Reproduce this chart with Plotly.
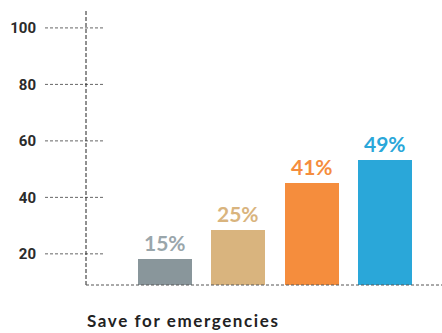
import plotly.graph_objects as go

# Share of each group that saves for emergencies (%)
groups = ["Group A", "Group B", "Group C", "Group D"]
shares = [15, 25, 41, 49]
bar_colors = ["#89969B", "#D9B47E", "#F58D3D", "#2AA7D9"]
label_colors = ["#9AA6AB", "#D9B47E", "#F58D3D", "#2AA7D9"]

tick_values = [20, 40, 60, 80, 100]
x_title = "Save for emergencies"

fig = go.Figure()

fig.add_trace(go.Bar(
    x=groups,
    y=shares,
    yaxis="y2",
    marker=dict(color=bar_colors, line=dict(width=0)),
    width=0.737,
    hoverinfo="skip",
    showlegend=False,
))

# Percent labels above each bar
for g, v, c in zip(groups, shares, label_colors):
    fig.add_annotation(
        x=g, y=v, xref="x", yref="y2",
        text=f"{v}%", showarrow=False,
        yanchor="bottom", yshift=2,
        font=dict(family="Lato", size=21, color=c, weight="bold"),
    )

# Short dotted guide lines at each tick value
for t in tick_values:
    fig.add_shape(
        type="line", xref="paper", yref="y",
        x0=-41 / 356, x1=19 / 356, y0=t, y1=t,
        line=dict(color="#666666", width=1, dash="3px,2px"),
    )

# Dotted vertical axis and dotted baseline
fig.add_shape(
    type="line", xref="paper", yref="paper",
    x0=0, x1=0, y0=0, y1=1,
    line=dict(color="#222222", width=1, dash="4px,2px"),
)
fig.add_shape(
    type="line", xref="paper", yref="paper",
    x0=0, x1=1, y0=0, y1=0,
    line=dict(color="#555555", width=1, dash="3px,2px"),
)

# Category caption; the tracking added below grows the text about its centre,
# so it is nudged right to keep its left edge on the axis
fig.add_annotation(
    text=x_title, xref="paper", yref="paper",
    x=-1 / 356, y=0, xanchor="left", yanchor="top",
    xshift=16, yshift=-23,
    showarrow=False,
    font=dict(family="Lato", size=17, color="#222222", weight="bold"),
)

fig.update_layout(
    width=442, height=333,
    margin=dict(l=86, r=0, t=9, b=47.5),
    paper_bgcolor="white", plot_bgcolor="white",
    xaxis=dict(
        type="category", range=[-1.078, 3.779],
        showticklabels=False, showgrid=False, zeroline=False,
        showline=False, ticks="",
    ),
    yaxis=dict(
        range=[8.97, 106.7], tickvals=tick_values,
        showgrid=False, zeroline=False, showline=False, ticks="",
        ticklabelstandoff=49,
        tickfont=dict(family="Roboto", size=15, color="#2B2B2B", weight="bold"),
    ),
    yaxis2=dict(
        overlaying="y", range=[6.1, 100.6], visible=False,
        showgrid=False, zeroline=False,
    ),
    bargap=0,
)

# Widen the tracking of the category caption
tracking_js = """
document.querySelectorAll('.annotation-text').forEach(function (el) {
  if (el.textContent === 'Save for emergencies') {
    el.style.letterSpacing = '1.6px';
  }
});
"""

fig.write_html("out.html", post_script=tracking_js)
